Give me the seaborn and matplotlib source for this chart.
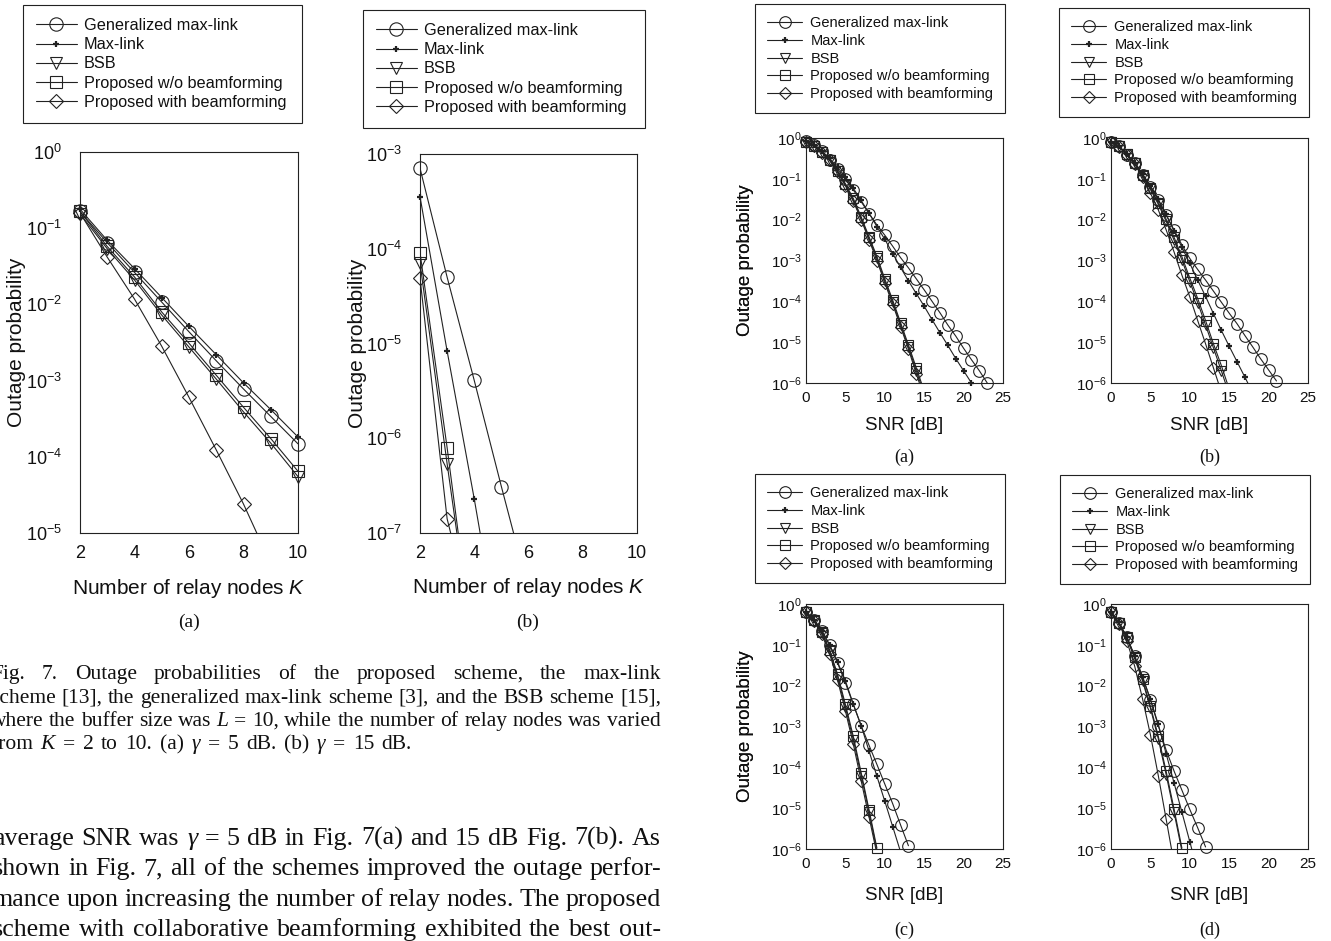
import numpy as np
import matplotlib
matplotlib.use("Agg")
import matplotlib.pyplot as plt
from matplotlib.lines import Line2D
from matplotlib.ticker import LogLocator, FixedLocator, NullLocator
import seaborn as sns

# ---------------------------------------------------------------- data
series_labels = ["Generalized max-link", "Max-link", "BSB",
                 "Proposed w/o beamforming", "Proposed with beamforming"]

# Fig. 7 : x = number of relay nodes K, values are log10(outage probability)
relay_k = [2, 3, 4, 5, 6, 7, 8, 9, 10]
k5_gen = [-0.78, -1.19, -1.58, -1.97, -2.36, -2.74, -3.11, -3.47, -3.83]
k5_max = [-0.75, -1.16, -1.53, -1.91, -2.29, -2.66, -3.03, -3.38, -3.74]
k5_bsb = [-0.81, -1.27, -1.68, -2.14, -2.56, -2.98, -3.41, -3.82, -4.26]
k5_wo = [-0.78, -1.24, -1.64, -2.10, -2.51, -2.93, -3.35, -3.76, -4.19]
k5_bf = [-0.80, -1.38, -1.93, -2.55, -3.22, -3.91, -4.62, -5.40]

k15_gen = [-3.15, -4.30, -5.39, -6.51, -7.60]
k15_max = [-3.45, -5.08, -6.64, -8.30]
k15_bsb = [-4.15, -6.27, -8.30]
k15_wo = [-4.04, -6.10, -8.30]
k15_bf = [-4.31, -6.85, -8.00]

# Fig. 8 : x = SNR [dB], values are log10(outage probability)
snr_db = list(range(0, 26))
a_gen = [-0.08, -0.17, -0.33, -0.53, -0.77, -1.00, -1.27, -1.56, -1.85, -2.13, -2.38, -2.65,
         -2.93, -3.18, -3.45, -3.72, -4.00, -4.28, -4.58, -4.85, -5.15, -5.43, -5.70, -6.00]
a_max = [-0.08, -0.17, -0.32, -0.50, -0.72, -0.95, -1.23, -1.53, -1.84, -2.17, -2.48, -2.83,
         -3.17, -3.50, -3.81, -4.12, -4.45, -4.77, -5.08, -5.40, -5.70, -6.00]
a_bsb = [-0.10, -0.19, -0.35, -0.54, -0.82, -1.15, -1.52, -1.97, -2.46, -2.95, -3.50, -4.02,
         -4.57, -5.12, -5.70, -6.27]
a_wo = [-0.10, -0.19, -0.35, -0.53, -0.80, -1.12, -1.48, -1.93, -2.42, -2.90, -3.45, -3.97,
        -4.52, -5.07, -5.63, -6.20]
a_bf = [-0.10, -0.20, -0.36, -0.55, -0.84, -1.17, -1.55, -2.00, -2.50, -3.00, -3.55, -4.07,
        -4.62, -5.17, -5.78, -6.35]

b_gen = [-0.10, -0.20, -0.41, -0.61, -0.90, -1.19, -1.52, -1.89, -2.25, -2.62, -2.95, -3.22,
         -3.48, -3.75, -4.02, -4.29, -4.55, -4.84, -5.12, -5.41, -5.68, -5.95]
b_max = [-0.10, -0.20, -0.40, -0.60, -0.88, -1.17, -1.50, -1.87, -2.28, -2.68, -3.07, -3.48,
         -3.88, -4.30, -4.71, -5.10, -5.48, -5.86, -6.25]
b_bsb = [-0.10, -0.20, -0.40, -0.62, -0.92, -1.26, -1.62, -2.04, -2.50, -2.99, -3.52, -4.03,
         -4.58, -5.14, -5.70, -6.28]
b_wo = [-0.10, -0.20, -0.39, -0.61, -0.90, -1.23, -1.58, -1.99, -2.43, -2.91, -3.43, -3.93,
        -4.47, -5.04, -5.57, -6.15]
b_bf = [-0.10, -0.22, -0.41, -0.64, -0.96, -1.35, -1.76, -2.25, -2.79, -3.36, -3.89, -4.47,
        -5.04, -5.63, -6.22]

c_gen = [-0.20, -0.38, -0.65, -1.01, -1.44, -1.93, -2.46, -2.98, -3.46, -3.93, -4.41, -4.89,
         -5.41, -5.92]
c_max = [-0.20, -0.38, -0.65, -1.00, -1.42, -1.88, -2.45, -2.98, -3.60, -4.22, -4.83, -5.45, -6.07]
c_bsb = [-0.20, -0.41, -0.70, -1.16, -1.78, -2.53, -3.32, -4.20, -5.10, -6.05]
c_wo = [-0.20, -0.40, -0.68, -1.12, -1.72, -2.46, -3.24, -4.13, -5.04, -5.98]
c_bf = [-0.20, -0.42, -0.74, -1.22, -1.86, -2.62, -3.43, -4.33, -5.22, -6.12]

d_gen = [-0.20, -0.46, -0.81, -1.28, -1.79, -2.34, -2.98, -3.58, -4.09, -4.56, -5.03, -5.48, -5.95]
d_max = [-0.20, -0.45, -0.80, -1.27, -1.78, -2.33, -2.95, -3.67, -4.38, -5.10, -5.82, -6.55]
d_bsb = [-0.20, -0.47, -0.83, -1.33, -1.88, -2.55, -3.30, -4.18, -5.10, -6.05]
d_wo = [-0.20, -0.46, -0.81, -1.30, -1.84, -2.50, -3.24, -4.10, -5.02, -5.98]
d_bf = [-0.20, -0.48, -0.90, -1.52, -2.32, -3.20, -4.20, -5.27, -6.35]

relay_ticks = [2, 4, 6, 8, 10]
snr_ticks = [0, 5, 10, 15, 20, 25]

caption_lines = [
    ["Fig.", "7.", "Outage", "probabilities", "of", "the", "proposed", "scheme,", "the", "max-link"],
    ["scheme", "[13],", "the", "generalized", "max-link", "scheme", "[3],", "and", "the", "BSB",
     "scheme", "[15],"],
    ["where", "the", "buffer", "size", "was", ("L", "italic"), "=", "10,", "while", "the", "number",
     "of", "relay", "nodes", "was", "varied"],
    ["from", ("K", "italic"), "=", "2", "to", "10.", "(a)", ("\u03b3", "italic"), "=", "5", "dB.",
     "(b)", ("\u03b3", "italic"), "=", "15", "dB."],
]
body_lines = [
    ["average", "SNR", "was", ("\u03b3", "italic"), "=", "5", "dB", "in", "Fig.", "7(a)", "and", "15",
     "dB", "Fig.", "7(b).", "As"],
    ["shown", "in", "Fig.", "7,", "all", "of", "the", "schemes", "improved", "the", "outage", "perfor-"],
    ["mance", "upon", "increasing", "the", "number", "of", "relay", "nodes.", "The", "proposed"],
    ["scheme", "with", "collaborative", "beamforming", "exhibited", "the", "best", "out-"],
]

# ---------------------------------------------------------------- style
W, H = 1331, 941
sns.set_style("white")
plt.rcParams["font.family"] = ["Liberation Sans", "DejaVu Sans"]
plt.rcParams["mathtext.fontset"] = "custom"
plt.rcParams["mathtext.rm"] = "Liberation Sans"
plt.rcParams["mathtext.it"] = "Liberation Sans:italic"
plt.rcParams["mathtext.bf"] = "Liberation Sans:bold"
SERIF = ["Liberation Serif", "DejaVu Serif"]
LC = "#222222"
TC = "#111111"

fig = plt.figure(figsize=(W / 100, H / 100), dpi=100)
fig.patch.set_facecolor("white")


def px_box(l, t, r, b):
    return [l / W, 1 - b / H, (r - l) / W, (b - t) / H]


MARKERS = ["o", "+", "v", "s", "D"]


def marker_kw(i, big):
    if big:
        sizes = [9.6, 4.8, 9.0, 8.0, 7.4]
    else:
        sizes = [8.4, 4.4, 7.6, 7.0, 6.4]
    kw = dict(marker=MARKERS[i], markersize=sizes[i], markeredgecolor=LC)
    if MARKERS[i] == "+":
        kw["markeredgewidth"] = 1.6
    else:
        kw["markeredgewidth"] = 0.8
        kw["markerfacecolor"] = "none"
    return kw


def draw_panel(ax, xvals, series, ylo, yhi, xlim, xticks, big):
    for i, ys in enumerate(series):
        x = np.asarray(xvals[:len(ys)], dtype=float)
        y = 10.0 ** np.asarray(ys, dtype=float)
        sns.lineplot(x=x, y=y, ax=ax, color=LC, linewidth=0.8, estimator=None, sort=False)
        keep = y >= 10.0 ** ylo * 0.98
        sns.lineplot(x=x[keep], y=y[keep], ax=ax, color=LC, linestyle="none",
                     estimator=None, sort=False, clip_on=False, **marker_kw(i, big))
    ax.set_yscale("log")
    ax.set_ylim(10.0 ** ylo, 10.0 ** yhi)
    ax.set_xlim(*xlim)
    ax.xaxis.set_major_locator(FixedLocator(xticks))
    ax.yaxis.set_major_locator(LogLocator(base=10, numticks=20))
    ax.yaxis.set_minor_locator(NullLocator())
    ax.xaxis.set_minor_locator(NullLocator())
    for sp in ax.spines.values():
        sp.set_color(LC)
        sp.set_linewidth(0.8)
        sp.set_visible(True)
    ax.set_facecolor("white")


def add_legend(l, r, top, fs, hl, htp, ls, bp, big):
    handles = []
    for i in range(5):
        handles.append(Line2D([], [], color=LC, linewidth=0.8, **marker_kw(i, big)))
    leg = fig.legend(handles, series_labels, loc="upper left",
                     bbox_to_anchor=(l / W, 1 - top / H, (r - l) / W, 0),
                     bbox_transform=fig.transFigure, mode="expand", borderaxespad=0,
                     fontsize=fs, handlelength=hl, handletextpad=htp, labelspacing=ls,
                     borderpad=bp, numpoints=1, frameon=True, fancybox=False,
                     edgecolor=LC, framealpha=1)
    leg.get_frame().set_linewidth(0.8)
    for t in leg.get_texts():
        t.set_color(TC)


# ---------------------------------------------------------------- Fig. 7 (left)
left_axes = [
    (px_box(80, 152, 298, 533), [k5_gen, k5_max, k5_bsb, k5_wo, k5_bf], -5, 0, "(a)", 189),
    (px_box(420, 154, 637, 533), [k15_gen, k15_max, k15_bsb, k15_wo, k15_bf], -7, -3, "(b)", 528),
]
for box, ser, ylo, yhi, tag, cx in left_axes:
    ax = fig.add_axes(box)
    draw_panel(ax, relay_k, ser, ylo, yhi, (2, 10), relay_ticks, True)
    ax.tick_params(axis="both", which="major", direction="in", length=3, width=0.6,
                   colors=LC, labelcolor=TC, labelsize=13)
    ax.tick_params(axis="x", pad=9)
    ax.tick_params(axis="y", pad=13)
    ax.set_xlabel("Number of relay nodes $K$", fontsize=15, color=TC)
    ax.xaxis.label.set_va("center")
    ax.xaxis.set_label_coords(0.5, (533 - 588) / 381)
    ax.set_ylabel("Outage probability", fontsize=15, color=TC)
    ax.yaxis.label.set_va("center")
    ax.yaxis.set_label_coords((17 - 80) / 218, 0.5)
    fig.text(cx / W, 1 - 622 / H, tag, fontsize=14, family=SERIF, ha="center", va="center",
             color=TC)

add_legend(23, 302, 5, 11.7, 2.5, 0.45, 0.26, 0.8, True)
add_legend(363, 645, 10, 11.7, 2.5, 0.45, 0.26, 0.8, True)

# ---------------------------------------------------------------- Fig. 8 (right)
right_axes = [
    (806, 138, 1003, 383, [a_gen, a_max, a_bsb, a_wo, a_bf], "(a)", 425, 457),
    (1111, 138, 1308, 383, [b_gen, b_max, b_bsb, b_wo, b_bf], "(b)", 425, 457),
    (806, 604, 1003, 849, [c_gen, c_max, c_bsb, c_wo, c_bf], "(c)", 895, 930),
    (1111, 604, 1308, 849, [d_gen, d_max, d_bsb, d_wo, d_bf], "(d)", 895, 930),
]
for l, t, r, b, ser, tag, ylab, ytag in right_axes:
    ax = fig.add_axes(px_box(l, t, r, b))
    draw_panel(ax, snr_db, ser, -6, 0, (0, 25), snr_ticks, False)
    ax.tick_params(axis="both", which="major", direction="in", length=3, width=0.6,
                   colors=LC, labelcolor=TC, labelsize=11)
    ax.tick_params(axis="x", pad=6)
    ax.tick_params(axis="y", pad=3)
    ax.set_xlabel("SNR [dB]", fontsize=13.5, color=TC)
    ax.xaxis.label.set_va("center")
    ax.xaxis.set_label_coords(0.5, (b - ylab) / (b - t))
    ax.set_ylabel("Outage probability", fontsize=13.5, color=TC)
    ax.yaxis.label.set_va("center")
    ax.yaxis.set_label_coords((746 - l) / (r - l), 0.5)
    fig.text((l + r) / 2 / W, 1 - ytag / H, tag, fontsize=13, family=SERIF, ha="center",
             va="center", color=TC)

add_legend(755, 1005, 4, 10.5, 2.4, 0.55, 0.25, 0.85, False)
add_legend(1059, 1309, 8, 10.5, 2.4, 0.55, 0.25, 0.85, False)
add_legend(755, 1005, 474, 10.5, 2.4, 0.55, 0.25, 0.85, False)
add_legend(1060, 1310, 475, 10.5, 2.4, 0.55, 0.25, 0.85, False)

# ---------------------------------------------------------------- caption and body text
renderer = fig.canvas.get_renderer()


def put_line(tokens, base_px, size, x0, x1):
    objs = []
    for tok in tokens:
        word, st = tok if isinstance(tok, tuple) else (tok, "normal")
        objs.append(fig.text(0, 1 - base_px / H, word, fontsize=size, family=SERIF, style=st,
                             ha="left", va="baseline", color=TC))
    widths = [o.get_window_extent(renderer).width for o in objs]
    gap = (x1 - x0 - sum(widths)) / (len(objs) - 1)
    x = x0
    for o, w in zip(objs, widths):
        o.set_x(x / W)
        x += w + gap


cap_base = [679, 703, 726, 749]
cap_right = [661, 661, 661, 412]
for line, yb, xr in zip(caption_lines, cap_base, cap_right):
    put_line(line, yb, 15.5, -9, xr)

body_base = [845, 875, 906, 936]
for line, yb in zip(body_lines, body_base):
    put_line(line, yb, 18.7, -7, 661)

fig.savefig("out.png", dpi=100, facecolor="white")
